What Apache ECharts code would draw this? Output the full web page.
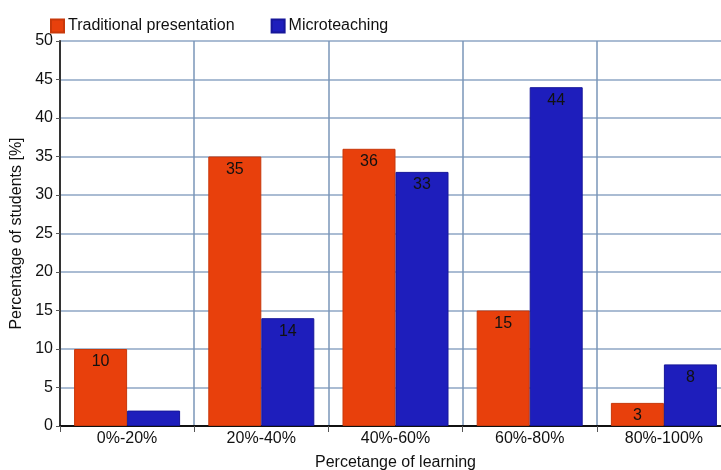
<!DOCTYPE html>
<html>
<head>
<meta charset="utf-8">
<script src="https://cdn.jsdelivr.net/npm/echarts@6/dist/echarts.min.js"></script>
<style>
  html, body { margin: 0; padding: 0; background: #fff; }
  #chart { width: 721px; height: 470px; }
</style>
</head>
<body>
<div id="chart"></div>
<script>
  const categories = ['0%-20%', '20%-40%', '40%-60%', '60%-80%', '80%-100%']
  const traditional = [10, 35, 36, 15, 3]
  const microteaching = [2, 14, 33, 44, 8]

  const font = 'Liberation Sans, Arial, sans-serif'

  // tiny bars get no label, as in the original
  function toItems(list) {
    return list.map(v => ({ value: v, label: { show: v >= 3 } }))
  }

  const chart = echarts.init(document.getElementById('chart'))
  const option = {
    animation: false,
    textStyle: { fontFamily: font },
    legend: {
      left: 45,
      top: 13,
      itemWidth: 13,
      itemHeight: 13,
      itemGap: 36,
      icon: 'rect',
      textStyle: { fontSize: 16, color: '#111', fontFamily: font, padding: [0, 0, 0, -1] },
      data: ['Traditional presentation', 'Microteaching']
    },
    grid: { left: 60, right: -10, top: 41, bottom: 44, outerBoundsMode: 'none', containLabel: false },
    xAxis: {
      type: 'category',
      data: categories,
      name: 'Percetange of learning',
      nameLocation: 'middle',
      nameGap: 29,
      nameTextStyle: { fontSize: 16, color: '#111' },
      axisLine: { lineStyle: { color: '#111', width: 2 } },
      axisTick: { show: true, length: 6, lineStyle: { color: '#555' } },
      axisLabel: { fontSize: 16, color: '#111', margin: 5 },
      splitLine: { show: true, lineStyle: { color: '#7a96b8', width: 1.5 } }
    },
    yAxis: {
      type: 'value',
      min: 0,
      max: 50,
      interval: 5,
      name: 'Percentage of students [%]',
      nameLocation: 'middle',
      nameGap: 34,
      nameTextStyle: { fontSize: 16, color: '#111' },
      axisLine: { show: true, lineStyle: { color: '#333', width: 2 } },
      axisTick: { show: true, length: 4, lineStyle: { color: '#555' } },
      axisLabel: { fontSize: 16, color: '#111', margin: 7 },
      splitLine: { lineStyle: { color: '#8ea6c4', width: 1.5 } }
    },
    series: [
      {
        name: 'Traditional presentation',
        type: 'bar',
        data: toItems(traditional),
        barWidth: 53,
        barGap: '0%',
        itemStyle: { color: '#e8400c', borderColor: '#c8380a', borderWidth: 1 },
        label: { position: 'insideTop', color: '#111', fontSize: 16, distance: 5 }
      },
      {
        name: 'Microteaching',
        type: 'bar',
        data: toItems(microteaching),
        barWidth: 53,
        barGap: '0%',
        itemStyle: { color: '#1e1ebc', borderColor: '#16169a', borderWidth: 1 },
        label: { position: 'insideTop', color: '#111', fontSize: 16, distance: 5 }
      }
    ]
  }
  chart.setOption(option)
</script>
</body>
</html>
